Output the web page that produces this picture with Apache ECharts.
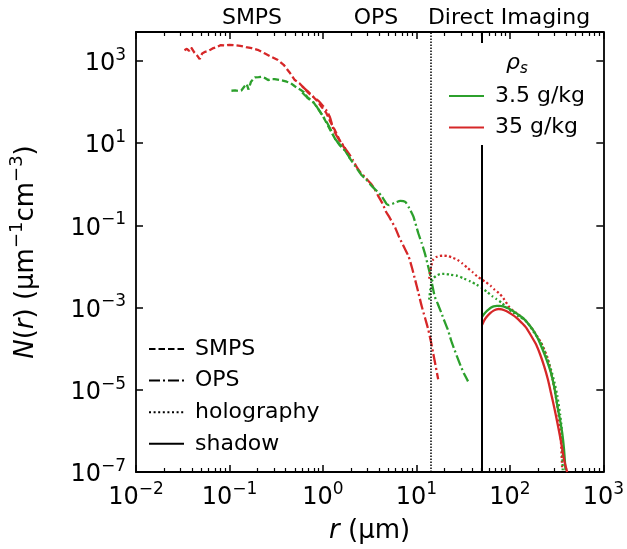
<!DOCTYPE html>
<html>
<head>
<meta charset="utf-8">
<script src="https://cdn.jsdelivr.net/npm/echarts@6/dist/echarts.min.js"></script>
<style>
html, body { margin: 0; padding: 0; background: #fff; }
#main { width: 627px; height: 549px; }
</style>
</head>
<body>
<div id="main"></div>
<script>
var FONT = 'DejaVu Sans';
var green = '#2ca02c', red = '#d62728';

// SMPS (dashed)
var smpsRedR = [0.033, 0.035, 0.037, 0.039, 0.042, 0.045, 0.048, 0.051, 0.055, 0.06, 0.066, 0.073, 0.08, 0.09, 0.1, 0.115, 0.13, 0.15, 0.173, 0.2, 0.24, 0.28, 0.33, 0.38, 0.44, 0.5, 0.56, 0.63, 0.7, 0.78, 0.87, 0.97, 1.08, 1.2, 1.35, 1.5, 1.7, 1.9];
var smpsRedN = [1800, 1950, 1750, 2100, 1600, 1350, 1100, 1500, 1650, 1750, 2000, 2150, 2400, 2350, 2450, 2380, 2300, 2150, 2030, 1850, 1500, 1250, 1040, 800, 520, 340, 285, 215, 165, 135, 105, 75, 55, 33, 20, 12, 7.5, 5];
var smpsGreenR = [0.105, 0.115, 0.125, 0.134, 0.145, 0.153, 0.16, 0.17, 0.187, 0.205, 0.22, 0.24, 0.259, 0.28, 0.304, 0.34, 0.372, 0.41, 0.455, 0.5, 0.533, 0.58, 0.63, 0.68, 0.73, 0.8, 0.9, 1.0, 1.1, 1.24, 1.35, 1.5, 1.72, 1.95];
var smpsGreenN = [187, 190, 185, 190, 240, 273, 200, 310, 394, 400, 410, 380, 340, 360, 360, 345, 330, 310, 283, 240, 218, 195, 171, 130, 115, 95, 65, 45, 30, 18, 12.6, 9, 6.6, 4.2];

// OPS (dash-dot)
var opsRedR = [0.6, 0.7, 0.8, 0.9, 1.0, 1.1, 1.2, 1.29, 1.4, 1.51, 1.65, 1.79, 1.95, 2.1, 2.3, 2.57, 2.8, 3.02, 3.3, 3.55, 3.9, 4.34, 4.7, 5.1, 5.98, 6.5, 7.3, 8.26, 9.0, 9.7, 10.5, 11.4, 12.4, 13.4, 14.3, 15.1, 16.0, 17.1];
var opsRedN = [240, 175, 130, 105, 80, 60, 40, 22, 15, 11.5, 8.8, 6.6, 5.0, 3.8, 2.6, 1.81, 1.5, 1.24, 1.0, 0.78, 0.52, 0.34, 0.22, 0.162, 0.084, 0.053, 0.031, 0.0173, 0.009, 0.0047, 0.0023, 0.00107, 5.5e-4, 2.9e-4, 1.5e-4, 7.9e-5, 4e-5, 1.8e-5];
var opsGreenR = [0.6, 0.7, 0.8, 0.9, 1.0, 1.1, 1.2, 1.35, 1.5, 1.72, 1.95, 2.2, 2.57, 2.9, 3.2, 3.55, 3.85, 4.17, 4.52, 4.8, 5.1, 5.5, 6.0, 6.74, 7.6, 8.4, 9.3, 10.5, 11.4, 12.3, 13.1, 13.9, 14.8, 15.7, 17.0, 18.5, 20.0, 21.7, 23.5, 25.5, 27.7, 29.9, 32.5, 35.7];
var opsGreenN = [170, 120, 95, 65, 45, 32, 22, 12.6, 9.5, 6.6, 4.2, 2.8, 1.7, 1.3, 1.0, 0.78, 0.65, 0.54, 0.41, 0.33, 0.31, 0.33, 0.36, 0.39, 0.37, 0.26, 0.162, 0.063, 0.037, 0.021, 0.012, 0.0069, 0.0035, 0.00187, 0.0012, 7.4e-4, 4.6e-4, 2.9e-4, 1.6e-4, 9.5e-5, 5.8e-5, 3.7e-5, 2.4e-5, 1.6e-5];

// holography (dotted)
var holoRedR = [13.7, 14.3, 15.1, 16.2, 17.5, 19.4, 21.7, 24.5, 27.5, 31, 35.2, 40, 44.7, 50, 55, 62, 69, 77, 85, 100, 123, 145, 176, 216, 253, 286, 322, 349, 363];
var holoRedN = [0.005, 0.0095, 0.0145, 0.0168, 0.0178, 0.0182, 0.0178, 0.0162, 0.0145, 0.0118, 0.0092, 0.0072, 0.0057, 0.0048, 0.0042, 0.0034, 0.0027, 0.0022, 0.0017, 9.8e-4, 6.8e-4, 5.0e-4, 2.9e-4, 1.38e-4, 6e-5, 1.8e-5, 4.1e-6, 7.6e-7, 1.2e-7];
var holoGreenR = [13.7, 14.3, 15.1, 16.5, 18, 20, 23, 27.5, 32, 38, 44, 50, 57, 64.5, 72, 82, 95, 109, 125, 145, 164, 183, 204, 224, 250, 275, 300, 322, 345, 358, 368];
var holoGreenN = [0.00155, 0.0035, 0.0051, 0.006, 0.0065, 0.0066, 0.0063, 0.0059, 0.0051, 0.0043, 0.0036, 0.003, 0.0024, 0.0019, 0.0016, 0.0013, 9.5e-4, 7.4e-4, 6.0e-4, 5.0e-4, 3.5e-4, 2.4e-4, 1.7e-4, 1.15e-4, 6e-5, 3.2e-5, 1.5e-5, 7.1e-6, 2.5e-6, 1.2e-6, 1.1e-7];

// shadow (solid)
var shadowGreenR = [50.5, 52.5, 56, 59, 63, 67, 72.6, 78, 85, 97, 109, 122, 138, 155, 176, 200, 224, 250, 275, 300, 322, 345, 363, 380, 394];
var shadowGreenN = [6.0e-4, 6.8e-4, 8.0e-4, 8.9e-4, 1.0e-3, 1.07e-3, 1.1e-3, 1.1e-3, 1.07e-3, 9.5e-4, 8.1e-4, 6.8e-4, 5.6e-4, 4.2e-4, 2.9e-4, 1.75e-4, 9.5e-5, 5e-5, 2.6e-5, 1.1e-5, 4.1e-6, 1.8e-6, 9e-7, 3.5e-7, 1.1e-7];
var shadowRedR = [50.5, 52.5, 56, 62, 67, 72, 76, 82, 92.5, 105, 118, 133, 150, 170, 191, 212, 233, 255, 275, 300, 322, 350, 380, 410];
var shadowRedN = [3.8e-4, 4.6e-4, 5.8e-4, 7.4e-4, 8.4e-4, 9.0e-4, 9.2e-4, 9.0e-4, 8.1e-4, 6.8e-4, 5.6e-4, 4.3e-4, 3.2e-4, 2.0e-4, 1.26e-4, 7e-5, 3.7e-5, 1.8e-5, 8.5e-6, 3.5e-6, 1.6e-6, 6e-7, 2e-7, 1.0e-7];

var xTicks = [0.01, 0.1, 1, 10, 100, 1000];
var yTicks = [1e-7, 1e-5, 1e-3, 1e-1, 10, 1000];
var xMin = 0.01, xMax = 1000, yMin = 1e-7, yMax = 5012;
var holoEdge = 14.3, shadowEdge = 50;
var instruments = ['SMPS', 'OPS', 'Direct Imaging'];
var salinities = ['3.5 g/kg', '35 g/kg'];

var xMinor = [];
for (var d = -2; d < 3; d++) {
    for (var k = 2; k < 10; k++) xMinor.push(+(k * Math.pow(10, d)).toPrecision(3));
}

function zip(a, b) {
    return a.map(function (v, i) { return [v, b[i]]; });
}

function powLabel(v) {
    var e = Math.round(Math.log10(v));
    return '{b|10}{s|' + (e < 0 ? '\u2212' + (-e) : e) + '}';
}

var tickRich = {
    b: { fontFamily: FONT, fontSize: 24, color: '#000', lineHeight: 34 },
    s: { fontFamily: FONT, fontSize: 17, color: '#000', lineHeight: 17, verticalAlign: 'top' }
};

var dash = [6.5, 3], dashDot = [11, 3, 2, 3], dot = [2, 2.6];

function curve(name, color, type, r, n) {
    return {
        name: name, type: 'line', showSymbol: false, symbol: 'none',
        smooth: type === dash ? false : 0.2,
        data: zip(r, n),
        itemStyle: { color: color, opacity: 0 },
        lineStyle: { color: color, width: 2.3, type: type },
        z: 3
    };
}

function styleKey(name, type) {
    return {
        name: name, type: 'line', data: [], symbol: 'none',
        itemStyle: { color: '#000', opacity: 0 },
        lineStyle: { color: '#000', width: 2.3, type: type }
    };
}

function xAxisDef(pos, ticks, len, labels) {
    return {
        type: 'log', logBase: 10, min: xMin, max: xMax, position: pos,
        axisLine: { show: len > 5, lineStyle: { color: '#000', width: 1.8 } },
        axisTick: { show: true, inside: true, length: len, customValues: ticks, lineStyle: { color: '#000', width: len > 5 ? 1.5 : 1.2 } },
        axisLabel: labels ? { customValues: ticks, formatter: powLabel, rich: tickRich, margin: 9 } : { show: false },
        splitLine: { show: false }, minorTick: { show: false }
    };
}

var legendBase = {
    orient: 'vertical', padding: 0, itemWidth: 35, itemHeight: 14, selectedMode: false,
    itemStyle: { opacity: 0 },
    textStyle: { fontFamily: FONT, fontSize: 22, color: '#000', lineHeight: 22, padding: [0, 0, 0, 6] }
};

var chart = echarts.init(document.getElementById('main'));

var option = {
    animation: false,
    backgroundColor: '#fff',
    grid: { left: 128, right: 22, top: 32, bottom: 76 },
    xAxis: [
        Object.assign(xAxisDef('bottom', xTicks, 7, true), {
            name: '{i|r}{n| (µm)}', nameLocation: 'middle', nameGap: 46,
            nameTextStyle: { rich: {
                i: { fontFamily: FONT, fontSize: 26, fontStyle: 'italic', color: '#000' },
                n: { fontFamily: FONT, fontSize: 26, color: '#000' }
            } }
        }),
        xAxisDef('bottom', xMinor, 4, false),
        xAxisDef('top', xTicks, 7, false),
        xAxisDef('top', xMinor, 4, false)
    ],
    yAxis: [
        {
            type: 'log', logBase: 10, min: yMin, max: yMax, position: 'left',
            axisLine: { show: true, lineStyle: { color: '#000', width: 1.8 } },
            axisTick: { inside: true, length: 7, customValues: yTicks, lineStyle: { color: '#000', width: 1.5 } },
            axisLabel: { customValues: yTicks, formatter: powLabel, rich: tickRich, margin: 10, padding: [6, 0, 0, 0] },
            splitLine: { show: false },
            name: '{i|N}{n|(}{i|r}{n|) (µm}{s|\u22121}{n|cm}{s|\u22123}{n|)}',
            nameLocation: 'middle', nameRotate: 90, nameGap: 92,
            nameTextStyle: { rich: {
                i: { fontFamily: FONT, fontSize: 26, fontStyle: 'italic', color: '#000', lineHeight: 36 },
                n: { fontFamily: FONT, fontSize: 26, color: '#000', lineHeight: 36 },
                s: { fontFamily: FONT, fontSize: 18, color: '#000', lineHeight: 18, verticalAlign: 'top' }
            } }
        },
        {
            type: 'log', logBase: 10, min: yMin, max: yMax, position: 'right',
            axisLine: { show: true, lineStyle: { color: '#000', width: 1.8 } },
            axisTick: { inside: true, length: 7, customValues: yTicks, lineStyle: { color: '#000', width: 1.5 } },
            axisLabel: { show: false },
            splitLine: { show: false }
        }
    ],
    legend: [
        Object.assign({ data: ['SMPS', 'OPS', 'holography', 'shadow'], left: 148, top: 338, itemGap: 9.6 }, legendBase),
        Object.assign({ data: salinities, left: 448, top: 85, itemGap: 9.4 }, legendBase)
    ],
    graphic: [
        { type: 'text', x: 252, y: 18, style: { text: instruments[0], font: '22px "DejaVu Sans"', fill: '#000', align: 'center', verticalAlign: 'middle' } },
        { type: 'text', x: 376, y: 18, style: { text: instruments[1], font: '22px "DejaVu Sans"', fill: '#000', align: 'center', verticalAlign: 'middle' } },
        { type: 'text', x: 509, y: 18, style: { text: instruments[2], font: '22px "DejaVu Sans"', fill: '#000', align: 'center', verticalAlign: 'middle' } },
        { type: 'text', x: 517, y: 63, style: {
            text: '{i|ρ}{u|s}', align: 'center', verticalAlign: 'middle',
            rich: {
                i: { fontFamily: FONT, fontSize: 22, fontStyle: 'italic', fill: '#000', lineHeight: 28 },
                u: { fontFamily: FONT, fontSize: 15, fontStyle: 'italic', fill: '#000', lineHeight: 15, verticalAlign: 'bottom' }
            } } }
    ],
    series: [
        curve('SMPS 35 g/kg', red, dash, smpsRedR, smpsRedN),
        curve('SMPS 3.5 g/kg', green, dash, smpsGreenR, smpsGreenN),
        curve('OPS 35 g/kg', red, dashDot, opsRedR, opsRedN),
        curve('OPS 3.5 g/kg', green, dashDot, opsGreenR, opsGreenN),
        curve('holography 35 g/kg', red, dot, holoRedR, holoRedN),
        curve('holography 3.5 g/kg', green, dot, holoGreenR, holoGreenN),
        curve(salinities[0], green, 'solid', shadowGreenR, shadowGreenN),
        curve(salinities[1], red, 'solid', shadowRedR, shadowRedN),
        styleKey('SMPS', dash),
        styleKey('OPS', dashDot),
        styleKey('holography', dot),
        styleKey('shadow', 'solid'),
        {
            name: 'edges', type: 'line', data: [], symbol: 'none', z: 2,
            markLine: {
                silent: true, symbol: 'none', animation: false,
                label: { show: false },
                data: [
                    [{ coord: [holoEdge, yMin], lineStyle: { color: '#000', width: 1.5, type: [1.5, 1.5] } }, { coord: [holoEdge, yMax] }],
                    [{ coord: [shadowEdge, yMin], lineStyle: { color: '#000', width: 2, type: 'solid' } }, { coord: [shadowEdge, 9] }],
                    [{ coord: [shadowEdge, 2700], lineStyle: { color: '#000', width: 2, type: 'solid' } }, { coord: [shadowEdge, yMax] }]
                ]
            }
        }
    ]
};

chart.setOption(option);
</script>
</body>
</html>
